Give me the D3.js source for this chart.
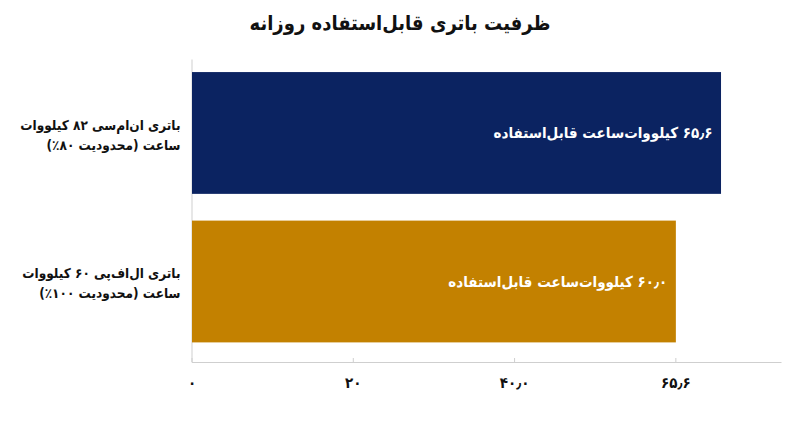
<!DOCTYPE html>
<html>
<head>
<meta charset="utf-8">
<script src="https://cdn.jsdelivr.net/npm/d3@7"></script>
<style>
  body { margin: 0; background: #fff; }
  text { font-family: "DejaVu Sans Condensed", "DejaVu Sans", sans-serif; }
</style>
</head>
<body>
<svg id="chart"></svg>
<script>
const title = "ظرفیت باتری قابل‌استفاده روزانه";
const categories = [
  ["باتری ان‌ام‌سی ۸۲ کیلووات", "ساعت (محدودیت ۸۰٪)"],
  ["باتری ال‌اف‌پی ۶۰ کیلووات", "ساعت (محدودیت ۱۰۰٪)"]
];
const values = [65.6, 60.0];
const barLabels = ["۶۵٫۶ کیلووات‌ساعت قابل‌استفاده", "۶۰٫۰ کیلووات‌ساعت قابل‌استفاده"];
const tickValues = [0, 20, 40, 60];
const tickLabels = ["۰", "۲۰", "۴۰٫۰", "۶۵٫۶"];
const colors = ["#0b2361", "#c38100"];

const width = 800, height = 447;
const margin = { top: 59, right: 19, bottom: 85, left: 191.5 };

const svg = d3.select("#chart")
  .attr("width", width)
  .attr("height", height);

const x = d3.scaleLinear()
  .domain([0, 73.1])
  .range([margin.left, width - margin.right]);

const y = d3.scaleBand()
  .domain(d3.range(categories.length))
  .range([margin.top, height - margin.bottom])
  .paddingInner(0.18)
  .paddingOuter(0.11)
  .align(0.4);

// title
svg.append("text")
  .attr("x", width / 2)
  .attr("y", 23)
  .attr("dy", "0.35em")
  .attr("text-anchor", "middle")
  .attr("font-size", 20)
  .attr("font-weight", "bold")
  .attr("fill", "#111")
  .text(title);

// bottom axis
const xAxis = svg.append("g")
  .attr("transform", `translate(0,${height - margin.bottom})`)
  .call(d3.axisBottom(x)
    .tickValues(tickValues)
    .tickFormat((d, i) => tickLabels[i])
    .tickSizeInner(-4)
    .tickSizeOuter(0)
    .tickPadding(15));
xAxis.select(".domain").attr("stroke", "#cfcfcf");
xAxis.selectAll(".tick line").attr("stroke", "#cfcfcf");
xAxis.selectAll(".tick text")
  .attr("font-size", 15)
  .attr("font-weight", "bold")
  .attr("fill", "#111")
  .attr("font-family", "DejaVu Sans Condensed, DejaVu Sans");

// left axis line
const yAxis = svg.append("g")
  .attr("transform", `translate(${margin.left},0)`)
  .call(d3.axisLeft(y).tickSize(0).tickFormat(""));
yAxis.select(".domain").attr("stroke", "#cfcfcf");

// bars
svg.append("g")
  .selectAll("rect")
  .data(values)
  .join("rect")
  .attr("x", x(0) + 0.5)
  .attr("y", (d, i) => y(i))
  .attr("width", d => x(d) - x(0))
  .attr("height", y.bandwidth())
  .attr("fill", (d, i) => colors[i]);

// bar labels
svg.append("g")
  .selectAll("text")
  .data(values)
  .join("text")
  .attr("x", d => x(d) - 8)
  .attr("y", (d, i) => y(i) + y.bandwidth() / 2)
  .attr("dy", "0.35em")
  .attr("direction", "rtl")
  .attr("text-anchor", "start")
  .attr("font-size", 15)
  .attr("font-weight", "bold")
  .attr("fill", "#fff")
  .text((d, i) => barLabels[i]);

// category labels
const cat = svg.append("g")
  .selectAll("text")
  .data(categories)
  .join("text")
  .attr("direction", "rtl")
  .attr("text-anchor", "start")
  .attr("font-size", 13.5)
  .attr("font-weight", "bold")
  .attr("fill", "#111")
  .attr("y", (d, i) => y(i) + y.bandwidth() / 2 - 8);

cat.selectAll("tspan")
  .data(d => d)
  .join("tspan")
  .attr("x", margin.left - 11)
  .attr("dy", (d, i) => i === 0 ? "0.35em" : 20)
  .text(d => d);
</script>
</body>
</html>
